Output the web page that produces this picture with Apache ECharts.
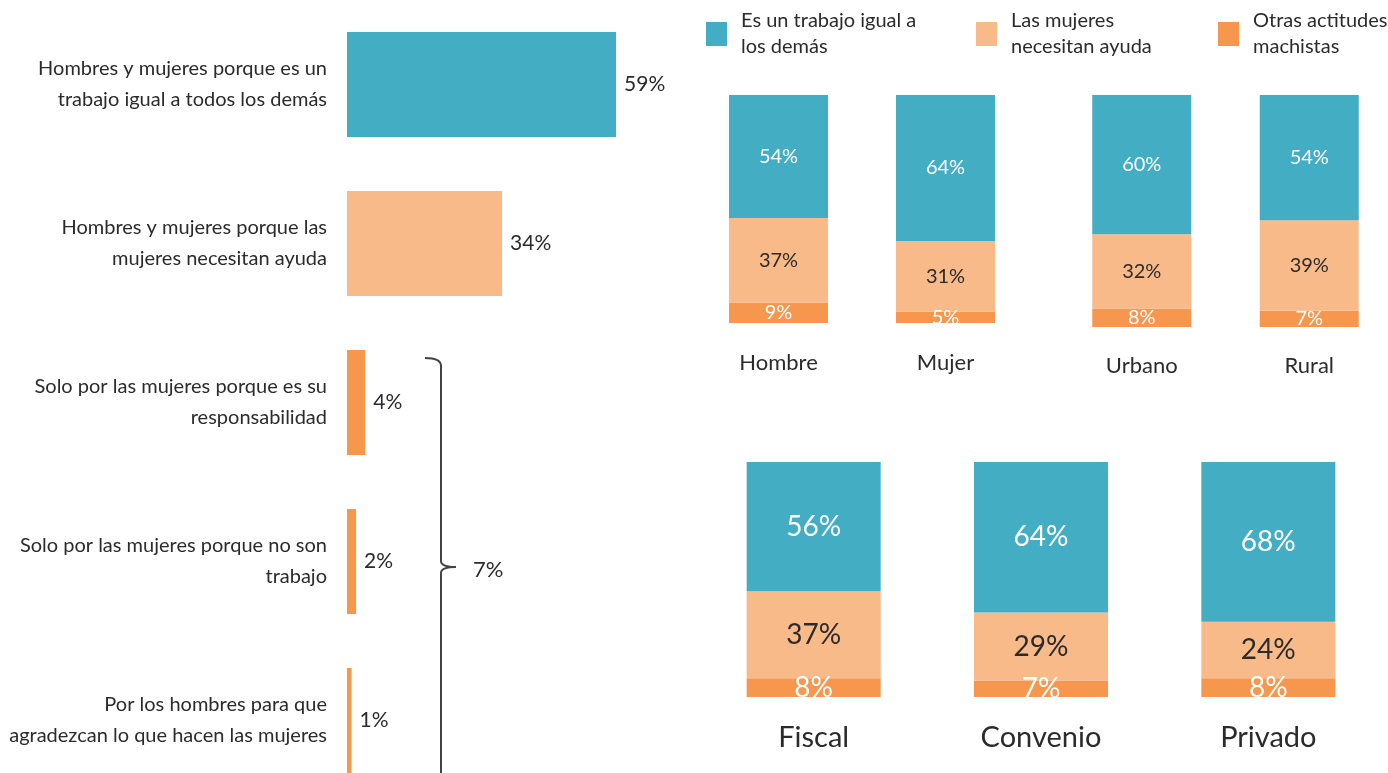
<!DOCTYPE html>
<html>
<head>
<meta charset="utf-8">
<script src="https://cdn.jsdelivr.net/npm/echarts@6/dist/echarts.min.js"></script>
<style>
  html, body { margin: 0; padding: 0; background: #fff; }
  #main { width: 1388px; height: 773px; }
</style>
</head>
<body>
<div id="main"></div>
<script>
  // left chart
  var leftCategories = [
    'Hombres y mujeres porque es un\ntrabajo igual a todos los demás',
    'Hombres y mujeres porque las\nmujeres necesitan ayuda',
    'Solo por las mujeres porque es su\nresponsabilidad',
    'Solo por las mujeres porque no son\ntrabajo',
    'Por los hombres para que\nagradezcan lo que hacen las mujeres'
  ];
  var leftValues = [59, 34, 4, 2, 1];
  var bracketLabel = '7%';

  // right charts
  var seriesNames = ['Es un trabajo igual a\nlos demás', 'Las mujeres\nnecesitan ayuda', 'Otras actitudes\nmachistas'];
  var sexCats = ['Hombre', 'Mujer'];
  var sexIgual = [54, 64];
  var sexAyuda = [37, 31];
  var sexOtras = [9, 5];
  var areaCats = ['Urbano', 'Rural'];
  var areaIgual = [60, 54];
  var areaAyuda = [32, 39];
  var areaOtras = [8, 7];
  var typeCats = ['Fiscal', 'Convenio', 'Privado'];
  var typeIgual = [56, 64, 68];
  var typeAyuda = [37, 29, 24];
  var typeOtras = [8, 7, 8];

  var TEAL = '#43adc4', PEACH = '#f9ba8a', ORANGE = '#f7964d', TXT = '#2b2b2b';
  var FONT = "Lato, 'Liberation Sans', sans-serif";
  var leftColors = [TEAL, PEACH, ORANGE, ORANGE, ORANGE];

  var chart = echarts.init(document.getElementById('main'));

  function catAxis(grid, cats, size, margin) {
    return {
      type: 'category', gridIndex: grid, data: cats,
      axisLine: { show: false }, axisTick: { show: false }, splitLine: { show: false },
      axisLabel: { fontFamily: FONT, fontSize: size, lineHeight: size, color: TXT, margin: margin }
    };
  }
  function valAxis(grid) {
    return { type: 'value', gridIndex: grid, min: 0, max: 100, show: false, splitLine: { show: false } };
  }
  function stackSeries(grid, stack, otras, ayuda, igual, size, width) {
    var lbl = function (color) {
      return { show: true, position: 'inside', fontFamily: FONT, fontSize: size, color: color, formatter: '{c}%' };
    };
    return [
      { name: seriesNames[2], type: 'bar', stack: stack, xAxisIndex: grid, yAxisIndex: grid, barWidth: width,
        itemStyle: { color: ORANGE }, label: lbl('#fff'), data: otras },
      { name: seriesNames[1], type: 'bar', stack: stack, xAxisIndex: grid, yAxisIndex: grid, barWidth: width,
        itemStyle: { color: PEACH }, label: lbl(TXT), data: ayuda },
      { name: seriesNames[0], type: 'bar', stack: stack, xAxisIndex: grid, yAxisIndex: grid, barWidth: width,
        itemStyle: { color: TEAL }, label: lbl('#fff'), data: igual }
    ];
  }
  function legendAt(left, name) {
    return {
      left: left, top: 8, padding: 0, itemWidth: 21, itemHeight: 24, icon: 'rect',
      selectedMode: false, data: [name],
      textStyle: { fontFamily: FONT, fontSize: 20, lineHeight: 26, color: TXT, padding: [0, 0, 0, 9] }
    };
  }
  function gridAt(left, top, width, height) {
    return { left: left, top: top, width: width, height: height, outerBoundsMode: 'none', containLabel: false };
  }

  var line = { fill: 'none', stroke: '#444', lineWidth: 2 };

  var option = {
    animation: false,
    backgroundColor: '#fff',
    legend: [
      legendAt(706, seriesNames[0]),
      legendAt(976, seriesNames[1]),
      legendAt(1218, seriesNames[2])
    ],
    grid: [
      gridAt(347, 5, 456, 795),
      gridAt(695, 95, 334, 228),
      gridAt(1058, 95, 335, 232),
      gridAt(700, 462, 682, 235)
    ],
    xAxis: [
      { type: 'value', gridIndex: 0, min: 0, max: 100, show: false, splitLine: { show: false } },
      catAxis(1, sexCats, 22, 29),
      catAxis(2, areaCats, 22, 28),
      catAxis(3, typeCats, 29, 26)
    ],
    yAxis: [
      {
        type: 'category', gridIndex: 0, data: leftCategories, inverse: true,
        axisLine: { show: false }, axisTick: { show: false },
        axisLabel: { fontFamily: FONT, fontSize: 20, lineHeight: 31, color: TXT, margin: 20, align: 'right' }
      },
      valAxis(1), valAxis(2), valAxis(3)
    ],
    series: [
      {
        type: 'bar', xAxisIndex: 0, yAxisIndex: 0, barWidth: 105,
        data: leftValues.map(function (v, i) { return { value: v, itemStyle: { color: leftColors[i] } }; }),
        label: { show: true, position: 'right', distance: 8, fontFamily: FONT, fontSize: 21, color: TXT, formatter: '{c}%' }
      }
    ]
      .concat(stackSeries(1, 'sex', sexOtras, sexAyuda, sexIgual, 20, 99))
      .concat(stackSeries(2, 'area', areaOtras, areaAyuda, areaIgual, 20, 99))
      .concat(stackSeries(3, 'type', typeOtras, typeAyuda, typeIgual, 28, 134)),
    graphic: [
      { type: 'bezierCurve', silent: true, shape: { x1: 425, y1: 358, cpx1: 441, cpy1: 358, x2: 441, y2: 366 }, style: line },
      { type: 'line', silent: true, shape: { x1: 441, y1: 366, x2: 441, y2: 561 }, style: line },
      { type: 'bezierCurve', silent: true, shape: { x1: 441, y1: 561, cpx1: 441, cpy1: 567, x2: 456, y2: 567 }, style: line },
      { type: 'bezierCurve', silent: true, shape: { x1: 456, y1: 567, cpx1: 441, cpy1: 567, x2: 441, y2: 573 }, style: line },
      { type: 'line', silent: true, shape: { x1: 441, y1: 573, x2: 441, y2: 790 }, style: line },
      {
        type: 'text', left: 473, top: 559, silent: true,
        style: { text: bracketLabel, fontFamily: FONT, fontSize: 22, fill: TXT }
      }
    ]
  };

  chart.setOption(option);
</script>
</body>
</html>
